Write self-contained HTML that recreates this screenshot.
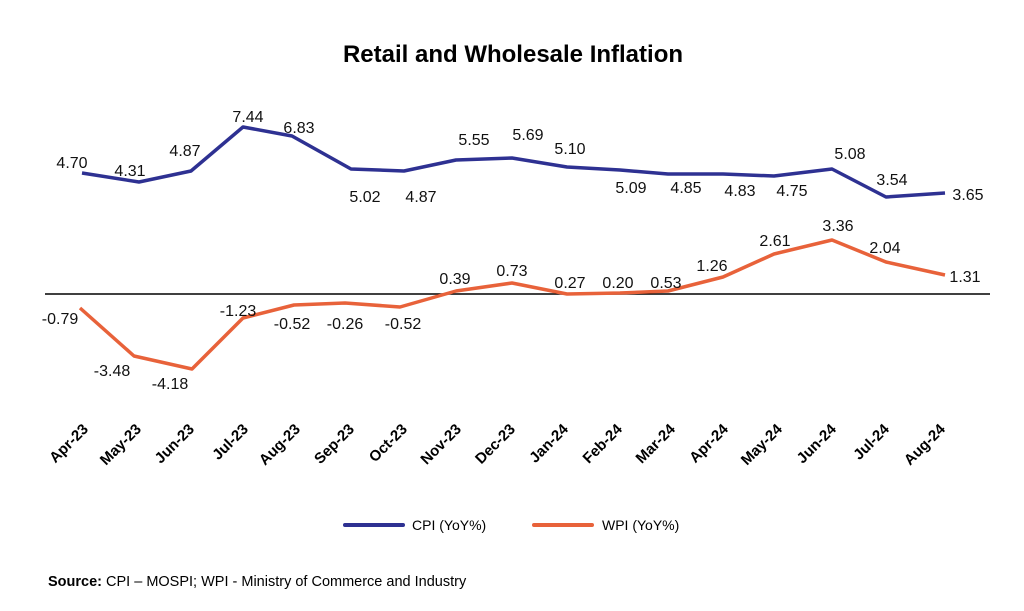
<!DOCTYPE html>
<html><head><meta charset="utf-8"><style>
body{margin:0;background:#fff}
svg{display:block;font-family:"Liberation Sans",sans-serif}
</style></head><body>
<svg width="1024" height="611" viewBox="0 0 1024 611">
<rect width="1024" height="611" fill="#fff"/>
<text x="513" y="62" text-anchor="middle" font-size="24" font-weight="bold" fill="#000">Retail and Wholesale Inflation</text>
<line x1="45" y1="294" x2="990" y2="294" stroke="#000" stroke-width="1.5"/>
<polyline fill="none" stroke="#2e3192" stroke-width="3.5" stroke-linejoin="round" points="82,173 139,182 191,171 243,127 292,136 351,169 404,171 456,160 512,158 567,167 620,170 668,174 723,174 774,176 832,169 886,197 945,193"/>
<polyline fill="none" stroke="#e8623a" stroke-width="3.5" stroke-linejoin="round" points="80,308 134,356 192,369 243,318 294,305 345,303 400,307 456,291 512,283 567,294 620,293 668,291 723,277 774,254 832,240 886,262 945,275"/>
<g font-size="16" fill="#111" text-anchor="middle">
<text x="72" y="168">4.70</text><text x="130" y="176">4.31</text><text x="185" y="156">4.87</text><text x="248" y="122">7.44</text><text x="299" y="133">6.83</text><text x="365" y="202">5.02</text><text x="421" y="202">4.87</text><text x="474" y="145">5.55</text><text x="528" y="140">5.69</text><text x="570" y="154">5.10</text><text x="631" y="193">5.09</text><text x="686" y="193">4.85</text><text x="740" y="196">4.83</text><text x="792" y="196">4.75</text><text x="850" y="159">5.08</text><text x="892" y="185">3.54</text><text x="968" y="200">3.65</text>
<text x="60" y="324">-0.79</text><text x="112" y="376">-3.48</text><text x="170" y="389">-4.18</text><text x="238" y="316">-1.23</text><text x="292" y="329">-0.52</text><text x="345" y="329">-0.26</text><text x="403" y="329">-0.52</text><text x="455" y="284">0.39</text><text x="512" y="276">0.73</text><text x="570" y="288">0.27</text><text x="618" y="288">0.20</text><text x="666" y="288">0.53</text><text x="712" y="271">1.26</text><text x="775" y="246">2.61</text><text x="838" y="231">3.36</text><text x="885" y="253">2.04</text><text x="965" y="282">1.31</text>
</g>
<g font-size="15" font-weight="bold" fill="#000" text-anchor="end">
<text transform="translate(89,430) rotate(-45)">Apr-23</text>
<text transform="translate(142,430) rotate(-45)">May-23</text>
<text transform="translate(195,430) rotate(-45)">Jun-23</text>
<text transform="translate(249,430) rotate(-45)">Jul-23</text>
<text transform="translate(301,430) rotate(-45)">Aug-23</text>
<text transform="translate(355,430) rotate(-45)">Sep-23</text>
<text transform="translate(408,430) rotate(-45)">Oct-23</text>
<text transform="translate(462,430) rotate(-45)">Nov-23</text>
<text transform="translate(516,430) rotate(-45)">Dec-23</text>
<text transform="translate(569,430) rotate(-45)">Jan-24</text>
<text transform="translate(623,430) rotate(-45)">Feb-24</text>
<text transform="translate(676,430) rotate(-45)">Mar-24</text>
<text transform="translate(729,430) rotate(-45)">Apr-24</text>
<text transform="translate(783,430) rotate(-45)">May-24</text>
<text transform="translate(837,430) rotate(-45)">Jun-24</text>
<text transform="translate(890,430) rotate(-45)">Jul-24</text>
<text transform="translate(946,430) rotate(-45)">Aug-24</text>
</g>
<line x1="345" y1="525" x2="403" y2="525" stroke="#2e3192" stroke-width="4" stroke-linecap="round"/>
<text x="412" y="530" font-size="14" fill="#000">CPI (YoY%)</text>
<line x1="534" y1="525" x2="592" y2="525" stroke="#e8623a" stroke-width="4" stroke-linecap="round"/>
<text x="602" y="530" font-size="14" fill="#000">WPI (YoY%)</text>
<text x="48" y="586" font-size="14.5" fill="#000"><tspan font-weight="bold">Source:</tspan> CPI – MOSPI; WPI - Ministry of Commerce and Industry</text>
</svg>
</body></html>
